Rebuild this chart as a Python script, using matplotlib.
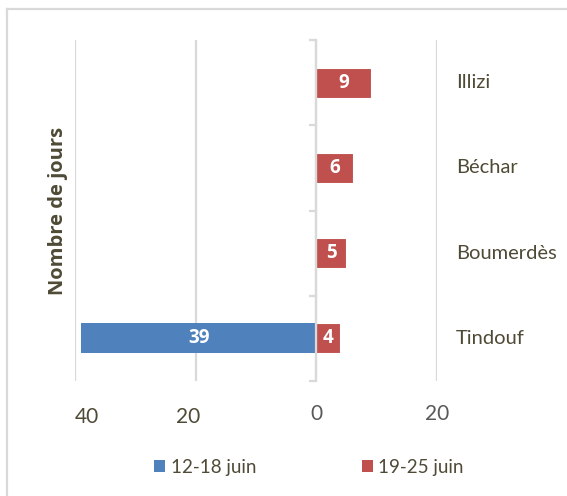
import matplotlib
matplotlib.use("Agg")
import matplotlib.pyplot as plt
from matplotlib.lines import Line2D
from matplotlib.patches import Patch
import matplotlib.transforms as mtransforms

categories = ["Tindouf", "Boumerdès", "Béchar", "Illizi"]
s1_name = "12-18 juin"
s2_name = "19-25 juin"
s1_values = [-39, 0, 0, 0]
s2_values = [4, 5, 6, 9]
x_ticks = [-40, -20, 0, 20]
x_tick_labels = ["40", "20", "0", "20"]

BLUE = "#4F81BD"
RED = "#C0504D"
GRID = "#D9D9D9"
OLIVE = "#4F4A36"
GRAYTXT = "#595959"

plt.rcParams['font.family'] = ['Lato', 'DejaVu Sans']
BOLD_FAMILY = ['Open Sans', 'DejaVu Sans']

W, H = 567, 496
fig = plt.figure(figsize=(W / 100, H / 100), dpi=100)
fig.patch.set_facecolor("white")

# outer border (top and left visible)
fig.add_artist(Line2D([7 / W, 1.0], [1 - 9 / H, 1 - 9 / H], color=GRID, lw=1.6, transform=fig.transFigure))
fig.add_artist(Line2D([7 / W, 7 / W], [0, 1 - 9 / H], color=GRID, lw=1.6, transform=fig.transFigure))

ax = fig.add_axes([75 / W, 1 - 381 / H, (437 - 75) / W, (381 - 40) / H])
ax.set_xlim(-40, 20)
ax.set_ylim(-0.5, len(categories) - 0.5)

y = list(range(len(categories)))
bh = 0.35
ax.barh(y, s1_values, height=bh, color=BLUE, zorder=3, label=s1_name)
ax.barh(y, s2_values, height=bh, color=RED, zorder=3, label=s2_name, edgecolor="white", linewidth=0.8)

# data labels
for yi, v in zip(y, s1_values):
    if v != 0:
        ax.text(v / 2, yi, f"{abs(v)}", ha="center", va="center", color="white",
                fontsize=13.5, fontweight="bold", family=BOLD_FAMILY, zorder=4)
for yi, v in zip(y, s2_values):
    if v != 0:
        ax.text(v / 2, yi, f"{abs(v)}", ha="center", va="center", color="white",
                fontsize=13.5, fontweight="bold", family=BOLD_FAMILY, zorder=4)

# grid and axis
ax.set_xticks(x_ticks)
ax.set_xticklabels([])
ax.tick_params(axis="x", length=0)
ax.grid(axis="x", color=GRID, lw=1.6, zorder=0)
for s in ["top", "right", "bottom"]:
    ax.spines[s].set_visible(False)
ax.spines["left"].set_position(("data", 0))
ax.spines["left"].set_color(GRID)
ax.spines["left"].set_linewidth(1.6)
ax.spines["left"].set_zorder(5)
ax.set_yticks([v - 0.5 for v in range(len(categories) + 1)])
ax.set_yticklabels([])
ax.tick_params(axis="y", direction="out", length=5, width=1.6, color=GRID)

# x tick labels as text
xt = ax.get_xaxis_transform()
offs = [(12, -3), (-8, -3), (0, 0), (0, 0)]
cols = [OLIVE, OLIVE, GRAYTXT, GRAYTXT]
for xv, lab, (dx, dy), c in zip(x_ticks, x_tick_labels, offs, cols):
    tr = xt + mtransforms.ScaledTranslation(dx / 100, (-33 + dy) / 100, fig.dpi_scale_trans)
    ax.text(xv, 0, lab, transform=tr, ha="center", va="center", fontsize=15, color=c, clip_on=False)

# category labels on right
for yi, cat in zip(y, categories):
    ax.text(23.1, yi, cat, ha="left", va="center", fontsize=14.5, color=OLIVE, clip_on=False)

# y label
fig.text(58 / W, 1 - 211 / H, "Nombre de jours", rotation=90, ha="center", va="center",
         fontsize=14.5, fontweight="bold", family=BOLD_FAMILY, color=OLIVE)

handles = [Patch(facecolor=BLUE), Patch(facecolor=RED)]
fig.legend(handles, [s1_name, s2_name], loc="center", bbox_to_anchor=(309 / W, 1 - 467 / H),
           ncol=2, frameon=False, fontsize=13.5, handlelength=0.6, handleheight=0.6,
           handletextpad=0.3, columnspacing=5.6, labelcolor=OLIVE)

fig.savefig("out.png", dpi=100, facecolor="white")
